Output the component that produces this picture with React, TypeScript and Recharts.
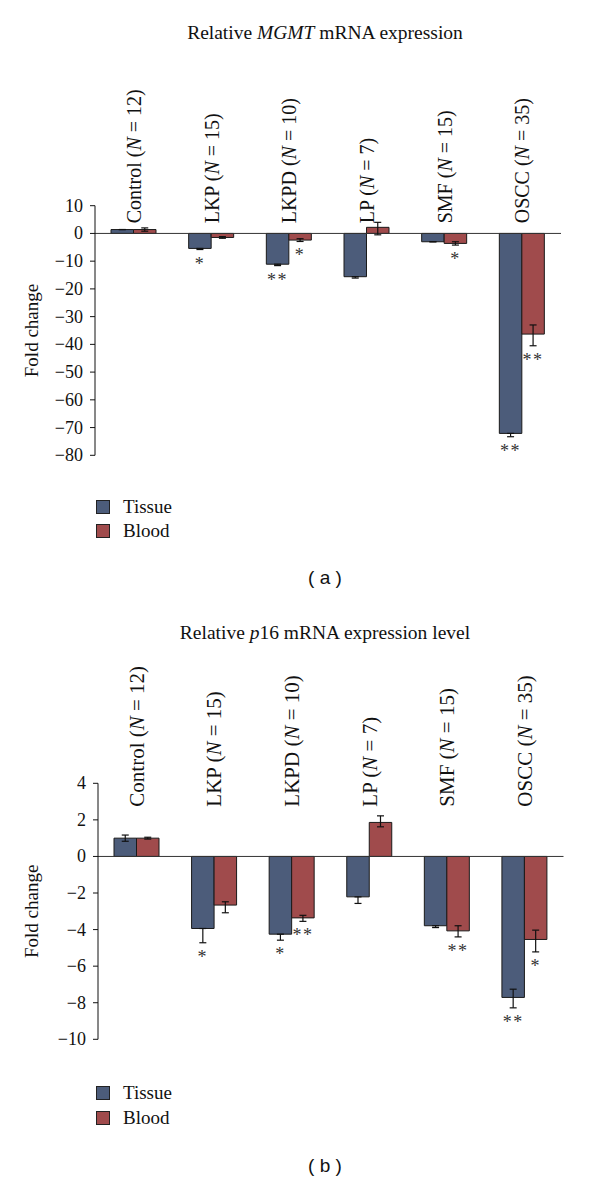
import React from 'react';
import { BarChart, Bar, XAxis, YAxis, ErrorBar, ReferenceLine, LabelList, Legend } from 'recharts';

// ---------- data ----------
const categories = ['Control', 'LKP', 'LKPD', 'LP', 'SMF', 'OSCC'];
const groupSizes = [12, 15, 10, 7, 15, 35];
const seriesOrder = ['Tissue', 'Blood'];

// (a) MGMT
const mgmtTissue = [1.4, -5.4, -11.1, -15.6, -3.0, -72.1];
const mgmtTissueErrMinus = [0, 0.4, 0.5, 0.5, 0, 1.2];
const mgmtTissueErrPlus = [0, 0, 0, 0, 0, 0];
const mgmtBlood = [1.4, -1.45, -2.4, 2.2, -3.6, -36.3];
const mgmtBloodErrMinus = [0.6, 0.3, 0.5, 2.7, 0.6, 4.2];
const mgmtBloodErrPlus = [0.6, 0.3, 0.5, 1.8, 0.6, 3.3];
const mgmtTissueStars = ['', '*', '**', '', '', '**'];
const mgmtBloodStars = ['', '', '*', '', '*', '**'];
const mgmtTicks = [10, 0, -10, -20, -30, -40, -50, -60, -70, -80];

// (b) p16
const p16Tissue = [1.0, -3.94, -4.25, -2.21, -3.79, -7.71];
const p16TissueErrMinus = [0.17, 0.78, 0.33, 0.36, 0.1, 0.57];
const p16TissueErrPlus = [0.17, 0, 0, 0, 0, 0.45];
const p16Blood = [1.0, -2.66, -3.36, 1.86, -4.07, -4.54];
const p16BloodErrMinus = [0.05, 0.42, 0.19, 0.24, 0.33, 0.68];
const p16BloodErrPlus = [0.05, 0.18, 0.14, 0.36, 0.28, 0.51];
const p16TissueStars = ['', '*', '*', '', '', '**'];
const p16BloodStars = ['', '', '**', '', '**', '*'];
const p16Ticks = [4, 2, 0, -2, -4, -6, -8, -10];

const TISSUE = '#4c5c7a';
const BLOOD = '#a04b4c';
const SERIF = '"Liberation Serif", "Times New Roman", serif';

function buildRows(
  tissue: number[], tMinus: number[], tPlus: number[], tStars: string[],
  blood: number[], bMinus: number[], bPlus: number[], bStars: string[]
) {
  return categories.map((cat, i) => ({
    cat,
    tissue: tissue[i],
    blood: blood[i],
    tErr: [tMinus[i], tPlus[i]],
    bErr: [bMinus[i], bPlus[i]],
    tStar: tStars[i],
    bStar: bStars[i],
  }));
}

const mgmtRows = buildRows(mgmtTissue, mgmtTissueErrMinus, mgmtTissueErrPlus, mgmtTissueStars,
  mgmtBlood, mgmtBloodErrMinus, mgmtBloodErrPlus, mgmtBloodStars);
const p16Rows = buildRows(p16Tissue, p16TissueErrMinus, p16TissueErrPlus, p16TissueStars,
  p16Blood, p16BloodErrMinus, p16BloodErrPlus, p16BloodStars);

const fmt = (v: number) => (v < 0 ? `\u2212${Math.abs(v)}` : `${v}`);

const CatTick = (props: any) => {
  const { x, payload, baseY, fontSize } = props;
  const idx = categories.indexOf(payload && payload.value);
  if (idx < 0) return <g />;
  return (
    <text
      transform={`translate(${x},${baseY}) rotate(-90)`}
      dominantBaseline="central"
      textAnchor="start"
      fontFamily={SERIF}
      fontSize={fontSize}
      fill="#111"
    >
      {categories[idx]} (<tspan fontStyle="italic">N</tspan> = {groupSizes[idx]})
    </text>
  );
};

const YTick = (props: any) => {
  const { x, y, payload } = props;
  return (
    <text
      x={x}
      y={y}
      textAnchor="end"
      dominantBaseline="central"
      fontFamily={SERIF}
      fontSize={18}
      fill="#111"
    >
      {fmt(payload.value)}
    </text>
  );
};

const AxisTitle = (props: any) => {
  const { viewBox, cx } = props;
  const cy = viewBox.y + viewBox.height / 2;
  return (
    <text
      transform={`translate(${cx},${cy}) rotate(-90)`}
      dominantBaseline="central"
      textAnchor="middle"
      fontFamily={SERIF}
      fontSize={19}
      fill="#111"
    >
      Fold change
    </text>
  );
};

function makeStar(values: number[], errMinus: number[], stars: string[]) {
  return (props: any) => {
    const idx = props.index;
    if (idx === undefined || idx === null) return null;
    const s = stars[idx];
    if (!s) return null;
    const vb = props.viewBox || props;
    const x = Number(vb.x);
    const y = Number(vb.y);
    const w = Number(vb.width);
    const h = Number(vb.height);
    const v = values[idx];
    if (!v) return null;
    const ppu = Math.abs(h) / Math.abs(v);
    const bottom = Math.max(y, y + h);
    const ty = bottom + errMinus[idx] * ppu + 20;
    return (
      <text x={x + w / 2} y={ty} textAnchor="middle" fontFamily={SERIF} fontSize={18} fill="#333" letterSpacing={1.5}>
        {s}
      </text>
    );
  };
}

const LegendBox = (props: any) => {
  const { payload, rowH } = props;
  const items = [...(payload || [])].sort(
    (a: any, b: any) => seriesOrder.indexOf(a.value) - seriesOrder.indexOf(b.value)
  );
  return (
    <div style={{ fontFamily: SERIF, fontSize: 19, color: '#111' }}>
      {items.map((e: any) => (
        <div key={e.value} style={{ display: 'flex', alignItems: 'center', height: rowH }}>
          <span
            style={{
              display: 'inline-block',
              width: 14,
              height: 14,
              background: e.color,
              border: '1.5px solid #222',
              boxSizing: 'border-box',
              marginRight: 13,
            }}
          />
          <span>{e.value}</span>
        </div>
      ))}
    </div>
  );
};

interface PanelProps {
  rows: any[];
  top: number;
  height: number;
  margin: { top: number; right: number; bottom: number; left: number };
  domain: [number, number];
  ticks: number[];
  tissue: number[];
  tMinus: number[];
  tStars: string[];
  blood: number[];
  bMinus: number[];
  bStars: string[];
  catBaseY: number;
  catFont: number;
  titleX: number;
  legendTop: number;
  legendRowH: number;
}

const Panel = (p: PanelProps) => (
  <div style={{ position: 'absolute', left: 0, top: p.top, width: 600, height: p.height }}>
    <BarChart
      width={600}
      height={p.height}
      data={p.rows}
      margin={{ ...p.margin, top: p.margin.top - 1 }}
      barGap={0}
      barSize={22.5}
    >
      <XAxis
        dataKey="cat"
        orientation="top"
        height={1}
        axisLine={false}
        tickLine={false}
        interval={0}
        tick={(tp: any) => <CatTick {...tp} baseY={p.catBaseY} fontSize={p.catFont} />}
      />
      <YAxis
        width={70}
        domain={p.domain}
        ticks={p.ticks}
        interval={0}
        axisLine={{ stroke: '#111', strokeWidth: 1 }}
        tickLine={{ stroke: '#111', strokeWidth: 1 }}
        tickSize={5}
        tickMargin={7}
        tick={(tp: any) => <YTick {...tp} />}
        allowDataOverflow
        label={<AxisTitle cx={p.titleX} />}
      />
      <ReferenceLine y={0} stroke="#333" strokeWidth={1} />
      <Bar dataKey="tissue" name="Tissue" fill={TISSUE} stroke="#1a1a1a" strokeWidth={1} isAnimationActive={false}>
        <ErrorBar dataKey="tErr" width={3.5} stroke="#111" strokeWidth={1.2} direction="y" />
        <LabelList dataKey="tStar" content={makeStar(p.tissue, p.tMinus, p.tStars)} />
      </Bar>
      <Bar dataKey="blood" name="Blood" fill={BLOOD} stroke="#1a1a1a" strokeWidth={1} isAnimationActive={false}>
        <ErrorBar dataKey="bErr" width={3.5} stroke="#111" strokeWidth={1.2} direction="y" />
        <LabelList dataKey="bStar" content={makeStar(p.blood, p.bMinus, p.bStars)} />
      </Bar>
      <Legend
        layout="vertical"
        align="center"
        verticalAlign="middle"
        content={(lp: any) => <LegendBox {...lp} rowH={p.legendRowH} />}
        wrapperStyle={{ left: 96, top: p.legendTop, width: 200, height: 2 * p.legendRowH }}
      />
    </BarChart>
  </div>
);

const textStyle: React.CSSProperties = {
  position: 'absolute',
  left: 0,
  width: 650,
  textAlign: 'center',
  fontFamily: SERIF,
  fontSize: 19.5,
  lineHeight: '24px',
  color: '#111',
  whiteSpace: 'nowrap',
};

const capStyle: React.CSSProperties = {
  position: 'absolute',
  left: 0,
  width: 650,
  textAlign: 'center',
  fontFamily: '"Liberation Sans", Arial, sans-serif',
  fontSize: 19,
  lineHeight: '24px',
  color: '#111',
  whiteSpace: 'pre',
};

export default function App() {
  return (
    <div style={{ position: 'absolute', left: 0, top: 0, width: 600, height: 1181, background: '#fff', overflow: 'hidden' }}>
      <div style={{ ...textStyle, top: 21 }}>
        Relative <i>MGMT</i> mRNA expression
      </div>
      <Panel
        rows={mgmtRows}
        top={0}
        height={560}
        margin={{ top: 205.7, right: 39, bottom: 104.7, left: 25 }}
        domain={[-80, 10]}
        ticks={mgmtTicks}
        tissue={mgmtTissue}
        tMinus={mgmtTissueErrMinus}
        tStars={mgmtTissueStars}
        blood={mgmtBlood}
        bMinus={mgmtBloodErrMinus}
        bStars={mgmtBloodStars}
        catBaseY={223.3}
        catFont={20}
        titleX={31.7}
        legendTop={494.7}
        legendRowH={24}
      />
      <div style={{ ...capStyle, top: 566 }}>{'( a )'}</div>

      <div style={{ ...textStyle, top: 621 }}>
        Relative <i>p</i>16 mRNA expression level
      </div>
      <Panel
        rows={p16Rows}
        top={600}
        height={581}
        margin={{ top: 183.3, right: 36.5, bottom: 141.7, left: 28 }}
        domain={[-10, 4]}
        ticks={p16Ticks}
        tissue={p16Tissue}
        tMinus={p16TissueErrMinus}
        tStars={p16TissueStars}
        blood={p16Blood}
        bMinus={p16BloodErrMinus}
        bStars={p16BloodStars}
        catBaseY={206.7}
        catFont={21}
        titleX={31.7}
        legendTop={480.2}
        legendRowH={25}
      />
      <div style={{ ...capStyle, top: 1154 }}>{'( b )'}</div>
    </div>
  );
}
